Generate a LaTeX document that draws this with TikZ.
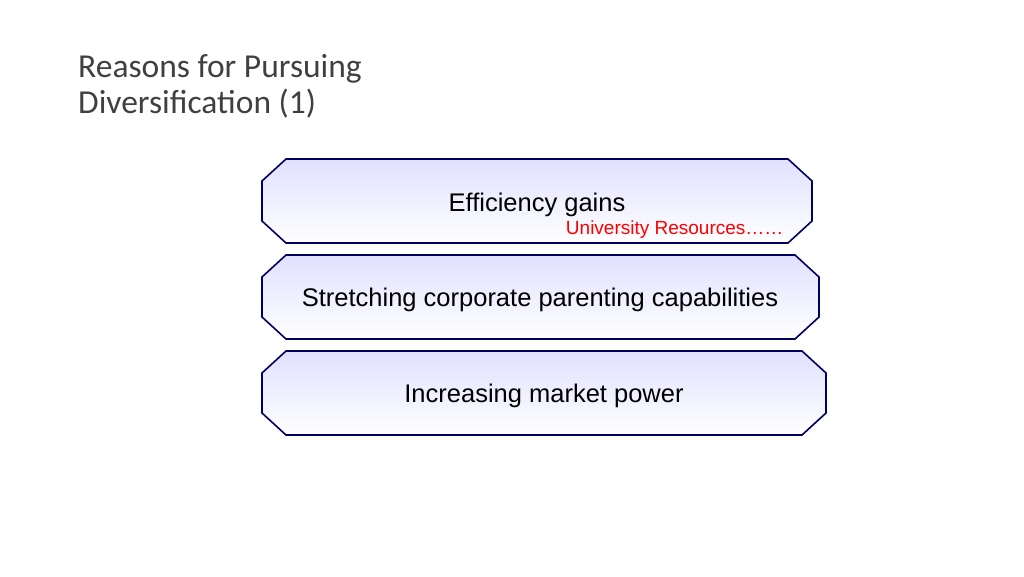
\documentclass[tikz,border=0pt]{standalone}
\usepackage{fontspec}
\setmainfont{Liberation Sans}
\newfontfamily\titlefont{Carlito}
\begin{document}
\begin{tikzpicture}[x=1pt,y=-1pt,
  box/.style={draw=blue!30!black!90!blue,line width=1.6pt,top color=blue!12!white,bottom color=white},
  lbl/.style={font=\fontsize{25.5}{30}\selectfont,text=black}]
\useasboundingbox (0,0) rectangle (1024,576);
\node[anchor=west,align=left,font=\titlefont\fontsize{33.5}{36}\selectfont,text=black!75,inner sep=0pt] (title) at (78,86) {Reasons for Pursuing\\Diversification (1)};
\foreach \i/\t/\r in {1/159/812,2/255/819,3/351/826}{
  \path[box] (286,\t) -- (\r-24,\t) -- (\r,\t+22) -- (\r,\t+62) -- (\r-24,\t+84) -- (286,\t+84) -- (262,\t+62) -- (262,\t+22) -- cycle;
}
\node[lbl] (a) at (537,205) {Efficiency gains};
\node[anchor=east,font=\fontsize{19}{22}\selectfont,text=red] (ar) at (787,230) {University Resources……};
\node[lbl] (b) at (540,300) {Stretching corporate parenting capabilities};
\node[lbl] (c) at (544,396) {Increasing market power};
\end{tikzpicture}
\end{document}
